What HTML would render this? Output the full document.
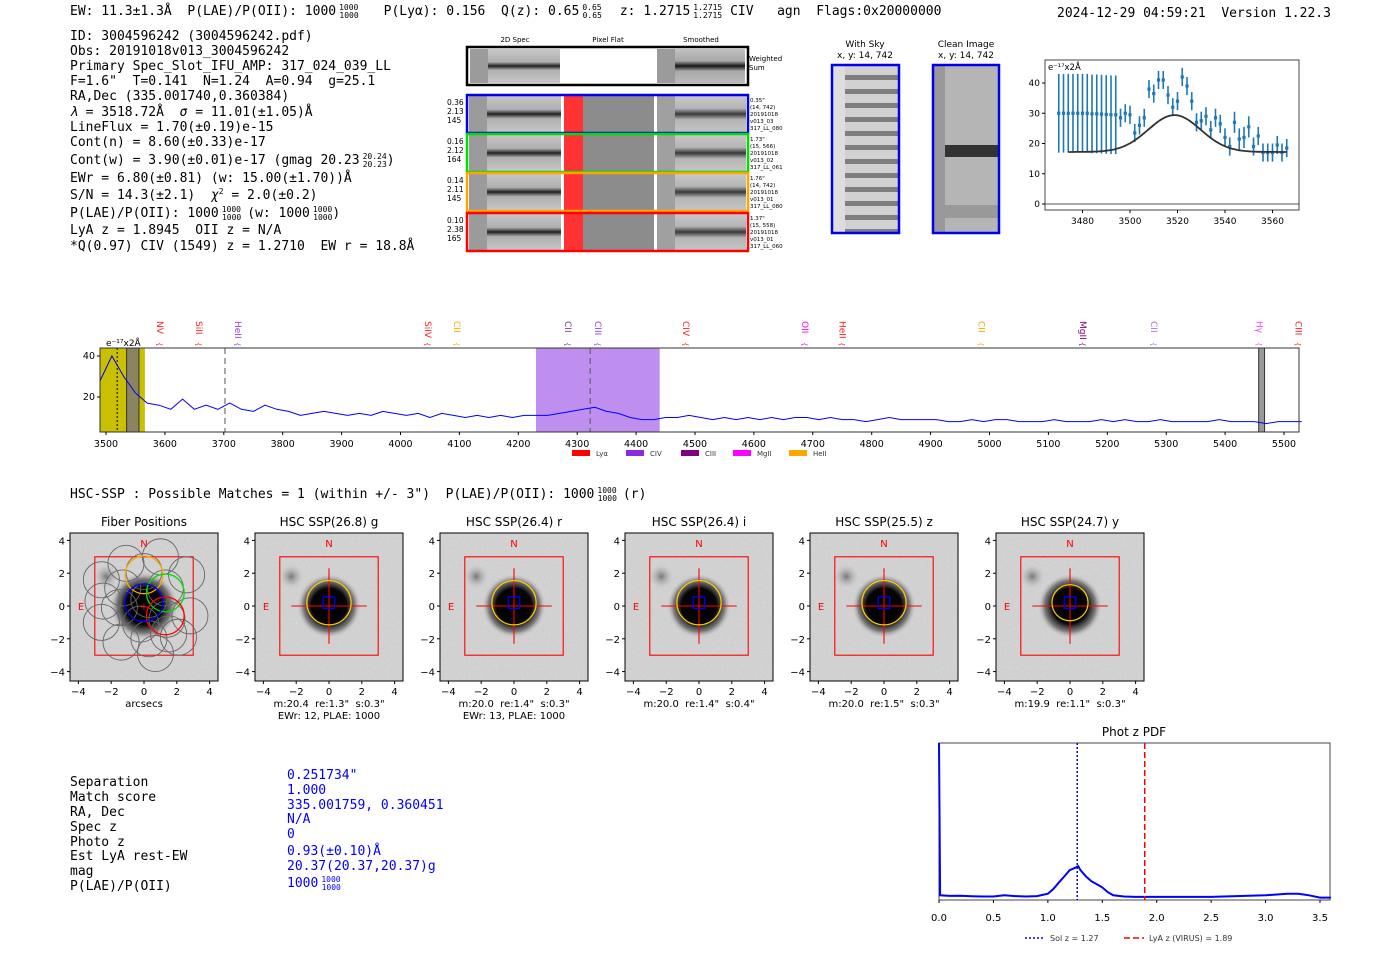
<!DOCTYPE html>
<html><head><meta charset="utf-8"><style>
html,body{margin:0;padding:0;background:#fff;width:1400px;height:953px;overflow:hidden}
svg{display:block}
text{white-space:pre}
.m{font-family:"DejaVu Sans Mono","Liberation Mono",monospace;font-size:13px;fill:#000}
.s{font-family:"DejaVu Sans","Liberation Sans",sans-serif;fill:#000}
</style></head><body>
<svg id="root" width="1400" height="953" viewBox="0 0 1400 953" xmlns="http://www.w3.org/2000/svg" xml:space="preserve">
<defs>
<filter id="noise" x="0" y="0" width="100%" height="100%"><feTurbulence type="fractalNoise" baseFrequency="0.45" numOctaves="1" seed="3"/><feColorMatrix type="matrix" values="0 0 0 0 0.55  0 0 0 0 0.55  0 0 0 0 0.55  0 0 0 1.2 -0.25"/><feComposite in2="SourceGraphic" operator="in"/></filter>
<radialGradient id="blob"><stop offset="0" stop-color="#000"/><stop offset="0.55" stop-color="#050505"/><stop offset="0.8" stop-color="#666" stop-opacity="0.8"/><stop offset="1" stop-color="#ccc" stop-opacity="0"/></radialGradient>
<radialGradient id="blob2"><stop offset="0" stop-color="#777"/><stop offset="1" stop-color="#bbb" stop-opacity="0"/></radialGradient>
<linearGradient id="band" x1="0" y1="0" x2="0" y2="1"><stop offset="0" stop-color="#c8c8c8"/><stop offset="0.38" stop-color="#b0b0b0"/><stop offset="0.5" stop-color="#202020"/><stop offset="0.62" stop-color="#b0b0b0"/><stop offset="1" stop-color="#c8c8c8"/></linearGradient>
<linearGradient id="bandS" x1="0" y1="0" x2="0" y2="1"><stop offset="0" stop-color="#c0c0c0"/><stop offset="0.35" stop-color="#a8a8a8"/><stop offset="0.5" stop-color="#151515"/><stop offset="0.65" stop-color="#a8a8a8"/><stop offset="1" stop-color="#bbb"/></linearGradient>
<pattern id="sky" width="10" height="14" patternUnits="userSpaceOnUse"><rect width="10" height="14" fill="#ccc"/><rect y="5" width="10" height="5" fill="#555"/></pattern>
</defs>

<g>
<text class="m" x="70" y="15">EW: 11.3±1.3Å  P(LAE)/P(OII): 1000<tspan font-size="8" dx="3" dy="-5">1000</tspan><tspan font-size="8" dx="-19" dy="8">1000</tspan><tspan dx="25" dy="-3">P(Lyα): 0.156  Q(z): 0.65</tspan><tspan font-size="8" dx="3" dy="-5">0.65</tspan><tspan font-size="8" dx="-19" dy="8">0.65</tspan><tspan dx="18" dy="-3">z: 1.2715</tspan><tspan font-size="8" dx="3" dy="-5">1.2715</tspan><tspan font-size="8" dx="-29" dy="8">1.2715</tspan><tspan dx="8" dy="-3">CIV   agn  Flags:0x20000000</tspan></text>
<text class="m" x="1057" y="17">2024-12-29 04:59:21  Version 1.22.3</text>
</g>

<g>
<text class="m" x="70" y="40">ID: 3004596242 (3004596242.pdf)</text>
<text class="m" x="70" y="55">Obs: 20191018v013_3004596242</text>
<text class="m" x="70" y="70">Primary Spec_Slot_IFU_AMP: 317_024_039_LL</text>
<text class="m" x="70" y="85">F=1.6"  T=0.141  N=1.24  A=0.94  g=25.1</text>
<text class="m" x="70" y="100">RA,Dec (335.001740,0.360384)</text>
<text class="m" x="70" y="116"><tspan font-style="italic">λ</tspan> = 3518.72Å  <tspan font-style="italic">σ</tspan> = 11.01(±1.05)Å</text>
<text class="m" x="70" y="131">LineFlux = 1.70(±0.19)e-15</text>
<text class="m" x="70" y="146">Cont(n) = 8.60(±0.33)e-17</text>
<text class="m" x="70" y="164">Cont(w) = 3.90(±0.01)e-17 (gmag 20.23<tspan font-size="8" dx="3" dy="-5">20.24</tspan><tspan font-size="8" dx="-24" dy="8">20.23</tspan><tspan dy="-3">)</tspan></text>
<text class="m" x="70" y="182">EWr = 6.80(±0.81) (w: 15.00(±1.70))Å</text>
<text class="m" x="70" y="199">S/N = 14.3(±2.1)  <tspan font-style="italic">χ</tspan><tspan font-size="8" dy="-5">2</tspan><tspan dy="5"> = 2.0(±0.2)</tspan></text>
<text class="m" x="70" y="217">P(LAE)/P(OII): 1000<tspan font-size="8" dx="3" dy="-5">1000</tspan><tspan font-size="8" dx="-19" dy="8">1000</tspan><tspan dx="6" dy="-3">(w: 1000</tspan><tspan font-size="8" dx="3" dy="-5">1000</tspan><tspan font-size="8" dx="-19" dy="8">1000</tspan><tspan dy="-3">)</tspan></text>
<text class="m" x="70" y="234">LyA z = 1.8945  OII z = N/A</text>
<text class="m" x="70" y="250">*Q(0.97) CIV (1549) z = 1.2710  EW r = 18.8Å</text>
</g>

<g id="spec2d">
<text class="s" font-size="7" x="515" y="42" text-anchor="middle">2D Spec</text>
<text class="s" font-size="7" x="608" y="42" text-anchor="middle">Pixel Flat</text>
<text class="s" font-size="7" x="701" y="42" text-anchor="middle">Smoothed</text>
<g>
<rect x="467" y="47" width="281" height="38" fill="#fff"/>
<rect x="470" y="49" width="18" height="34" fill="#9b9b9b"/>
<rect x="488" y="49" width="72" height="34" fill="url(#band)"/>
<rect x="657" y="49" width="18" height="34" fill="#9b9b9b"/>
<rect x="675" y="49" width="70" height="34" fill="url(#bandS)"/>
<rect x="467" y="47" width="281" height="38" fill="none" stroke="#000" stroke-width="2.5"/>
<text class="s" font-size="7" x="749" y="61">Weighted</text><text class="s" font-size="7" x="749" y="70">Sum</text>
</g>
</g>

<g>
<text class="s" font-size="9" x="865" y="47" text-anchor="middle">With Sky</text>
<text class="s" font-size="9" x="865" y="58" text-anchor="middle">x, y: 14, 742</text>
<rect x="832" y="65" width="67" height="168" fill="#ddd"/>
<rect x="845" y="65" width="54" height="168" fill="url(#sky)" opacity="0.7"/>
<rect x="832" y="65" width="67" height="168" fill="none" stroke="#0000ee" stroke-width="2.5"/>
</g>
<g>
<text class="s" font-size="9" x="966" y="47" text-anchor="middle">Clean Image</text>
<text class="s" font-size="9" x="966" y="58" text-anchor="middle">x, y: 14, 742</text>
<rect x="933" y="65" width="66" height="168" fill="#b5b5b5"/>
<rect x="933" y="65" width="12" height="168" fill="#999"/>
<rect x="945" y="145" width="54" height="12" fill="#333"/>
<rect x="945" y="205" width="54" height="13" fill="#999"/>
<rect x="933" y="65" width="66" height="168" fill="none" stroke="#0000ee" stroke-width="2.5"/>
</g>

<g id="fitplot"></g>
<g id="spectrum"></g>

<text class="m" x="70" y="498">HSC-SSP : Possible Matches = 1 (within +/- 3")  P(LAE)/P(OII): 1000<tspan font-size="8" dx="3" dy="-5">1000</tspan><tspan font-size="8" dx="-19" dy="8">1000</tspan><tspan dx="6" dy="-3">(r)</tspan></text>
<g id="cutouts"></g>

<g>
<text class="m" x="70" y="786">Separation</text><text class="m" x="287" y="779" style="fill:#00f">0.251734"</text>
<text class="m" x="70" y="801">Match score</text><text class="m" x="287" y="794" style="fill:#00f">1.000</text>
<text class="m" x="70" y="816">RA, Dec</text><text class="m" x="287" y="809" style="fill:#00f">335.001759, 0.360451</text>
<text class="m" x="70" y="831">Spec z</text><text class="m" x="287" y="823" style="fill:#00f">N/A</text>
<text class="m" x="70" y="846">Photo z</text><text class="m" x="287" y="838" style="fill:#00f">0</text>
<text class="m" x="70" y="860">Est LyA rest-EW</text><text class="m" x="287" y="855" style="fill:#00f">0.93(±0.10)Å</text>
<text class="m" x="70" y="875">mag</text><text class="m" x="287" y="870" style="fill:#00f">20.37(20.37,20.37)g</text>
<text class="m" x="70" y="890">P(LAE)/P(OII)</text><text class="m" x="287" y="887" style="fill:#00f">1000<tspan font-size="8" dx="3" dy="-5">1000</tspan><tspan font-size="8" dx="-19" dy="8">1000</tspan></text>
</g>

<g id="photz"></g>
</svg>

<script>
const fitWave = [3470,3472,3474,3476,3478,3480,3482,3484,3486,3488,3490,3492,3494,3496,3498,3500,3502,3504,3506,3508,3510,3512,3514,3516,3518,3520,3522,3524,3526,3528,3530,3532,3534,3536,3538,3540,3542,3544,3546,3548,3550,3552,3554,3556,3558,3560,3562,3564,3566];
const fitFlux = [30,30,30,30,30,30,30,29.8,29.8,29.7,29.6,29.5,29.5,28.5,30,29.5,23.5,26,28.5,38,36.5,41,41,36,32,34,42,39,34,27,27.5,29,24.5,28.5,26.5,22,19,27,21.5,22,25.5,19,22.5,17,17,17,19.5,17,18.5];
const fitErr = [13,13,13,13,13,13,13,13,13,13,13,13,13,3,3,3,3,3,3,3,3,3,3,3,3,3,3,3,3,3,3,3,3,3,3,3,3,3.5,3.5,3.5,3.5,3,3,3,3,3,3,3,3];
const fitModel = [17.2, 12.2, 3518.7, 11.0];
const fitTicksX = [3480,3500,3520,3540,3560];
const fitTicksY = [0,10,20,30,40];

const specStart = 3490, specStep = 20;
const specFlux = [28,40,30,22,17,16,14,19,14,16,14,17,14,13,16,14,13,11,12,13,12,11,12,11,13,12,11,12,10,12,11,10,11,10,11,10,11,11,11,12,13,14,15,13,12,10,9,9,10,10,11,10,9,10,9,10,9,10,9,10,10,9,10,9,9,8,9,10,9,9,9,9,8,8,9,8,9,9,8,8,8,9,8,8,8,9,8,9,8,8,9,8,8,8,8,9,8,8,8,7,8,8,8];
const specTicksX = [3500,3600,3700,3800,3900,4000,4100,4200,4300,4400,4500,4600,4700,4800,4900,5000,5100,5200,5300,5400,5500];
const specTicksY = [20,40];
const lineNames = ["NV","SiII","HeII","SiIV","CII","CII","CIII","CIV","OII","HeII","CII","MgII","CII","Hγ","CIII"];
const lineWaves = [3592,3658,3724,4047,4096,4284,4335,4485,4687,4750,4986,5159,5279,5458,5525];
const lineColors = ["#ff2020","#ff2020","#9a40e0","#ff2020","#ffa500","#7a3a9a","#9a40e0","#ff2020","#ff00ff","#ff2020","#ffa500","#800080","#b070e0","#ff40ff","#ff2020"];
const legendNames = ["Lyα","CIV","CIII","MgII","HeII"];
const legendColors = ["#ff0000","#8a2be2","#800080","#ff00ff","#ffa500"];

const cutTitles = ["Fiber Positions","HSC SSP(26.8) g","HSC SSP(26.4) r","HSC SSP(26.4) i","HSC SSP(25.5) z","HSC SSP(24.7) y"];
const cutCaption1 = ["arcsecs",'m:20.4  re:1.3"  s:0.3"','m:20.0  re:1.4"  s:0.3"','m:20.0  re:1.4"  s:0.4"','m:20.0  re:1.5"  s:0.3"','m:19.9  re:1.1"  s:0.3"'];
const cutCaption2 = ["","EWr: 12, PLAE: 1000","EWr: 13, PLAE: 1000","","",""];
const cutTicks = [-4,-2,0,2,4];

const pdfZ = [0,0.01,0.1,0.2,0.3,0.4,0.5,0.6,0.7,0.8,0.9,1.0,1.05,1.1,1.15,1.2,1.25,1.28,1.3,1.35,1.4,1.45,1.5,1.55,1.6,1.7,1.8,2.0,2.5,3.0,3.2,3.3,3.4,3.5,3.6];
const pdfP = [1.0,0.03,0.026,0.027,0.024,0.022,0.022,0.03,0.025,0.022,0.025,0.04,0.07,0.11,0.15,0.19,0.205,0.215,0.19,0.15,0.12,0.1,0.08,0.05,0.03,0.022,0.02,0.02,0.02,0.03,0.04,0.04,0.03,0.015,0.015];
const pdfTicks = [0.0,0.5,1.0,1.5,2.0,2.5,3.0,3.5];
const solZ = [1.27], lyaZ = [1.89];

const NS = "http://www.w3.org/2000/svg";
function mk(parent, tag, attrs, txt){const e=document.createElementNS(NS,tag);for(const k in attrs)e.setAttribute(k,attrs[k]);if(txt!==undefined)e.textContent=txt;parent.appendChild(e);return e;}
function lin(d0,d1,r0,r1){return v=>r0+(v-d0)*(r1-r0)/(d1-d0);}
const SANS='"DejaVu Sans","Liberation Sans",sans-serif';

(function(){
 const g=document.getElementById('spec2d');
 const rows=[{y:95,c:"#0000ee",l:["0.36","2.13","145"],r:['0.35"',"(14, 742)","20191018","v013_03","317_LL_080"]},
  {y:134,c:"#00dd00",l:["0.16","2.12","164"],r:['1.73"',"(15, 566)","20191018","v013_02","317_LL_061"]},
  {y:173,c:"#ffa500",l:["0.14","2.11","145"],r:['1.76"',"(14, 742)","20191018","v013_01","317_LL_080"]},
  {y:213,c:"#ff0000",l:["0.10","2.38","165"],r:['1.37"',"(15, 558)","20191018","v013_01","317_LL_060"]}];
 rows.forEach((r,i)=>{
  const rg=mk(g,'g',{});
  
  
  const h=38;
  mk(rg,'rect',{x:467,y:r.y,width:281,height:h,fill:'#fff'});
  mk(rg,'rect',{x:469,y:r.y,width:18,height:h,fill:'#9b9b9b'});
  mk(rg,'rect',{x:487,y:r.y,width:74,height:h,fill:'url(#band)'});
  mk(rg,'rect',{x:564,y:r.y,width:19,height:h,fill:'#ff3333'});
  mk(rg,'rect',{x:583,y:r.y,width:71,height:h,fill:'#8c8c8c'});
  mk(rg,'rect',{x:657,y:r.y,width:18,height:h,fill:'#a0a0a0'});
  mk(rg,'rect',{x:675,y:r.y,width:71,height:h,fill:'url(#bandS)',opacity:0.85});
  mk(rg,'rect',{x:467,y:r.y,width:281,height:h,fill:'none',stroke:r.c,'stroke-width':2.5});
  r.l.forEach((t,j)=>mk(rg,'text',{x:447,y:r.y+10+j*9,'font-size':7.5,'font-family':SANS},t));
  r.r.forEach((t,j)=>mk(rg,'text',{x:750,y:r.y+7+j*7,'font-size':5.5,'font-family':SANS},t));
 });
})();

(function(){
 const g=document.getElementById('fitplot');
 const L=1045,R=1299,T=60,B=210;
 const X=lin(3500,3520,1130,1177.5), Y=lin(0,40,204,83);
 mk(g,'rect',{x:L,y:T,width:R-L,height:B-T,fill:'#fff'});
 mk(g,'line',{x1:L,x2:R,y1:Y(0),y2:Y(0),stroke:'#555','stroke-width':1});
 fitWave.forEach((w,i)=>{
  const e=mk(g,'line',{x1:X(w),x2:X(w),y1:Y(fitFlux[i]-fitErr[i]),y2:Y(fitFlux[i]+fitErr[i]),stroke:'#1f77b4','stroke-width':1.6});
  
  
  const p=mk(g,'rect',{x:X(w)-1.6,y:Y(fitFlux[i])-1.6,width:3.2,height:3.2,fill:'#1f77b4'});
  
  
 });
 let d='';
 for(let w=3474;w<=3566;w+=1){const f=fitModel[0]+fitModel[1]*Math.exp(-Math.pow(w-fitModel[2],2)/(2*fitModel[3]*fitModel[3]));d+=(d?'L':'M')+X(w).toFixed(1)+','+Y(f).toFixed(1);}
 const m=mk(g,'path',{d:d,fill:'none',stroke:'#333','stroke-width':1.8});
 
 
 mk(g,'rect',{x:L,y:T,width:R-L,height:B-T,fill:'none',stroke:'#444','stroke-width':1});
 fitTicksX.forEach(t=>{mk(g,'line',{x1:X(t),x2:X(t),y1:B,y2:B+3,stroke:'#000'});mk(g,'text',{x:X(t),y:B+14,'font-size':9,'font-family':SANS,'text-anchor':'middle'},t);});
 fitTicksY.forEach(t=>{mk(g,'line',{x1:L-3,x2:L,y1:Y(t),y2:Y(t),stroke:'#000'});mk(g,'text',{x:L-5,y:Y(t)+3,'font-size':9,'font-family':SANS,'text-anchor':'end'},t);});
 mk(g,'text',{x:L+3,y:T+10,'font-size':8.5,'font-family':SANS},'e⁻¹⁷x2Å');
})();

(function(){
 const g=document.getElementById('spectrum');
 const L=100,R=1299,T=348,B=432;
 const X=lin(3500,5500,106,1284), Y=lin(20,40,397,356);
 mk(g,'rect',{x:L,y:T,width:R-L,height:B-T,fill:'#fff'});
 mk(g,'rect',{x:L,y:T,width:X(3566)-L,height:B-T,fill:'#c8c000'});
 mk(g,'rect',{x:X(3535),y:T,width:X(3556)-X(3535),height:B-T,fill:'#8a8460',stroke:'#333'});
 mk(g,'rect',{x:X(4230),y:T,width:X(4440)-X(4230),height:B-T,fill:'#bf8ff0'});
 mk(g,'rect',{x:X(5457),y:T,width:X(5467)-X(5457),height:B-T,fill:'#999',stroke:'#333'});
 [3702,4322].forEach(a=>mk(g,'line',{x1:X(a),x2:X(a),y1:T,y2:B,stroke:'#555','stroke-dasharray':'6,4'}));
 mk(g,'line',{x1:X(3519),x2:X(3519),y1:T,y2:B,stroke:'#000','stroke-dasharray':'2,2'});
 let d='';
 specFlux.forEach((f,i)=>{const w=specStart+i*specStep;d+=(i?'L':'M')+X(w).toFixed(1)+','+Y(f).toFixed(1);});
 const p=mk(g,'path',{d:d,fill:'none',stroke:'#0000ff','stroke-width':1});
 
 
 mk(g,'rect',{x:L,y:T,width:R-L,height:B-T,fill:'none',stroke:'#333','stroke-width':1});
 specTicksX.forEach(t=>{mk(g,'line',{x1:X(t),x2:X(t),y1:B,y2:B+3,stroke:'#000'});mk(g,'text',{x:X(t),y:B+15,'font-size':9.5,'font-family':SANS,'text-anchor':'middle'},t);});
 specTicksY.forEach(t=>{mk(g,'line',{x1:L-3,x2:L,y1:Y(t),y2:Y(t),stroke:'#000'});mk(g,'text',{x:L-5,y:Y(t)+3,'font-size':9.5,'font-family':SANS,'text-anchor':'end'},t);});
 mk(g,'text',{x:106,y:346,'font-size':9,'font-family':SANS},'e⁻¹⁷x2Å');
 lineNames.forEach((n,i)=>{
  const x=X(lineWaves[i]);
  const t=mk(g,'text',{x:0,y:0,transform:`translate(${x-3},321) rotate(90)`,'font-size':9,'font-family':SANS,fill:lineColors[i]},n);
  
  
  mk(g,'text',{x:0,y:0,transform:`translate(${x-3},342) rotate(90)`,'font-size':7,'font-family':SANS,fill:lineColors[i]},'{');
 });
 const lx=[572,626,681,733,789];
 legendNames.forEach((n,i)=>{
  const e=mk(g,'rect',{x:lx[i],y:450,width:18,height:6,fill:legendColors[i]});
  
  
  mk(g,'text',{x:lx[i]+24,y:456,'font-size':7,'font-family':SANS,fill:'#333'},n);
 });
})();

(function(){
 const g=document.getElementById('cutouts');
 const px=[70,255,440,625,810,996];
 px.forEach((x0,i)=>{
  const cg=mk(g,'g',{});
  
  
  const W=148,y0=533,cx=x0+74,cy=606,s=16.4;
  mk(cg,'text',{x:cx,y:526,'font-size':12,'font-family':SANS,'text-anchor':'middle'},cutTitles[i]);
  mk(cg,'rect',{x:x0,y:y0,width:W,height:W,fill:'#d4d4d4'});
  mk(cg,'rect',{x:x0,y:y0,width:W,height:W,fill:'#fff',filter:'url(#noise)',opacity:0.5});
  mk(cg,'circle',{cx:cx-2.3*s,cy:cy-1.8*s,r:12,fill:'url(#blob2)'});
  mk(cg,'circle',{cx:cx,cy:cy,r:i==0?34:32,fill:'url(#blob)'});
  mk(cg,'rect',{x:cx-3*s,y:cy-3*s,width:6*s,height:6*s,fill:'none',stroke:'#ff0000','stroke-width':1.1});
  mk(cg,'text',{x:cx,y:cy-3.9*s+5,'font-size':10,'font-family':SANS,fill:'#ff0000','text-anchor':'middle'},'N');
  mk(cg,'text',{x:x0+11,y:cy+4,'font-size':10,'font-family':SANS,fill:'#ff0000','text-anchor':'middle'},'E');
  if(i==0){
   const fib=[[0,2.1],[1.3,1.1],[0.3,0.4],[1.4,-0.8],[-1.3,1.1],[-1.5,-0.1],[-2.5,0.3],[-2.6,1.6],[-1.1,2.6],[1.0,3.0],[2.6,1.9],[2.8,-0.6],[2.1,-1.9],[0.7,-2.9],[-1.4,-2.2],[-2.6,-1.0],[-0.2,-1.1],[1.5,-1.7],[0.3,-2.0]];
   fib.forEach(f=>mk(cg,'circle',{cx:cx+f[0]*s,cy:cy-f[1]*s,r:1.1*s,fill:'none',stroke:'#666','stroke-width':0.9}));
   mk(cg,'circle',{cx:cx,cy:cy-1.9*s,r:1.15*s,fill:'none',stroke:'#ffa500','stroke-width':1.3});
   mk(cg,'circle',{cx:cx+1.3*s,cy:cy-0.8*s,r:1.15*s,fill:'none',stroke:'#00dd00','stroke-width':1.3});
   mk(cg,'circle',{cx:cx+1.3*s,cy:cy+0.6*s,r:1.15*s,fill:'none',stroke:'#ff0000','stroke-width':1.3});
   mk(cg,'circle',{cx:cx,cy:cy-0.2*s,r:1.15*s,fill:'none',stroke:'#0000ff','stroke-width':1.3});
   mk(cg,'text',{x:cx,y:cy+4,'font-size':10,fill:'#ff0000','text-anchor':'middle','font-family':SANS},'+');
  } else {
   mk(cg,'line',{x1:cx-2.3*s,x2:cx+2.3*s,y1:cy,y2:cy,stroke:'#ff0000','stroke-width':1.1});
   mk(cg,'line',{x1:cx,x2:cx,y1:cy-2.3*s,y2:cy+2.3*s,stroke:'#ff0000','stroke-width':1.1});
   mk(cg,'circle',{cx:cx,cy:cy-0.2*s,r:(i==5?1.1:1.35)*s,fill:'none',stroke:'#ffcc00','stroke-width':1.2});
   mk(cg,'rect',{x:cx-0.35*s,y:cy-0.55*s,width:0.7*s,height:0.7*s,fill:'none',stroke:'#0000ff','stroke-width':1.2});
  }
  mk(cg,'rect',{x:x0,y:y0,width:W,height:W,fill:'none',stroke:'#000','stroke-width':1});
  cutTicks.forEach(t=>{
   mk(cg,'line',{x1:cx+t*s,x2:cx+t*s,y1:y0+W,y2:y0+W+3,stroke:'#000'});
   mk(cg,'text',{x:cx+t*s,y:y0+W+14,'font-size':10,'font-family':SANS,'text-anchor':'middle'},t<0?'−'+(-t):t);
   mk(cg,'line',{x1:x0-3,x2:x0,y1:cy-t*s,y2:cy-t*s,stroke:'#000'});
   mk(cg,'text',{x:x0-5,y:cy-t*s+4,'font-size':10,'font-family':SANS,'text-anchor':'end'},t<0?'−'+(-t):t);
  });
  mk(cg,'text',{x:cx,y:707,'font-size':10,'font-family':SANS,'text-anchor':'middle'},cutCaption1[i]);
  if(cutCaption2[i]) mk(cg,'text',{x:cx,y:719,'font-size':10,'font-family':SANS,'text-anchor':'middle'},cutCaption2[i]);
 });
})();

(function(){
 const g=document.getElementById('photz');
 const L=939,R=1330,T=743,B=900;
 const X=lin(0,3.5,939,1320), Y=lin(0,1,B,T);
 mk(g,'text',{x:1134,y:736,'font-size':12,'font-family':SANS,'text-anchor':'middle'},'Phot z PDF');
 mk(g,'rect',{x:L,y:T,width:R-L,height:B-T,fill:'#fff',stroke:'#444'});
 let d='';
 pdfZ.forEach((z,i)=>{d+=(i?'L':'M')+X(z).toFixed(1)+','+Y(pdfP[i]).toFixed(1);});
 const p=mk(g,'path',{d:d,fill:'none',stroke:'#0000ff','stroke-width':2});
 
 
 const a=mk(g,'line',{x1:X(solZ[0]),x2:X(solZ[0]),y1:T,y2:B,stroke:'#0000ff','stroke-width':1.5,'stroke-dasharray':'2,2'});
 
 
 const b=mk(g,'line',{x1:X(lyaZ[0]),x2:X(lyaZ[0]),y1:T,y2:B,stroke:'#ff0000','stroke-width':1.5,'stroke-dasharray':'6,3'});
 
 
 pdfTicks.forEach(t=>{mk(g,'line',{x1:X(t),x2:X(t),y1:B,y2:B+3,stroke:'#000'});mk(g,'text',{x:X(t),y:B+21,'font-size':10,'font-family':SANS,'text-anchor':'middle'},t.toFixed(1));});
 mk(g,'line',{x1:1025,x2:1045,y1:938,y2:938,stroke:'#0000ff','stroke-width':1.5,'stroke-dasharray':'2,2'});
 mk(g,'text',{x:1050,y:941,'font-size':8,'font-family':SANS,fill:'#333'},'Sol z = 1.27');
 mk(g,'line',{x1:1124,x2:1144,y1:938,y2:938,stroke:'#ff0000','stroke-width':1.5,'stroke-dasharray':'6,3'});
 mk(g,'text',{x:1149,y:941,'font-size':8,'font-family':SANS,fill:'#333'},'LyA z (VIRUS) = 1.89');
})();
</script>
</body></html>
